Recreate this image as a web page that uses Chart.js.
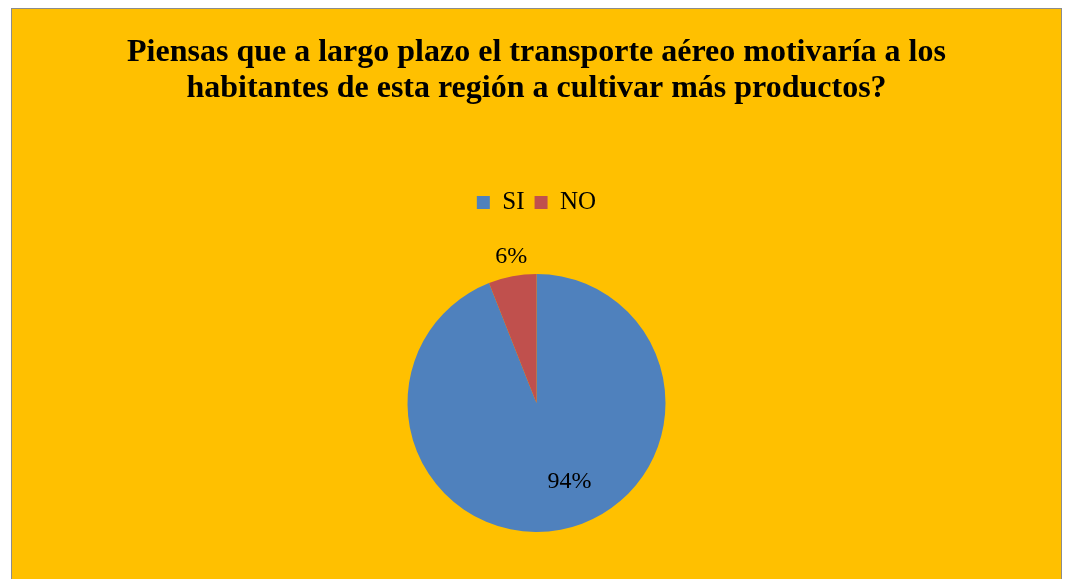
<!DOCTYPE html>
<html>
<head>
<meta charset="utf-8">
<script src="https://cdn.jsdelivr.net/npm/chart.js@4.4.0/dist/chart.umd.min.js"></script>
<style>
  body { margin: 0; background: #fff; overflow: hidden; }
  #box {
    position: absolute; left: 11px; top: 8px; width: 1049px; height: 590px;
    background: #ffc000; border: 1px solid #8c8c8c; border-bottom: none;
  }
  canvas { display: block; }
</style>
</head>
<body>
<div id="box"><canvas id="pieChart" width="1049" height="590"></canvas></div>
<script>
const titleLines = [
  "Piensas que a largo plazo el transporte aéreo motivaría a los",
  "habitantes de esta región a cultivar más productos?"
];
const categories = ["SI", "NO"];
const values = [94, 6];
const colors = ["#4f81bd", "#c0504d"];

// where each percent label sits: fraction of radius, and angle nudge in degrees
const labelPlace = [
  { radius: 0.66, shift: -12 },
  { radius: 1.15, shift: 1 }
];

const pctLabels = {
  id: "pctLabels",
  afterDatasetsDraw(chart) {
    const ctx = chart.ctx;
    const total = values.reduce((a, b) => a + b, 0);
    chart.getDatasetMeta(0).data.forEach((arc, i) => {
      const mid = (arc.startAngle + arc.endAngle) / 2 + labelPlace[i].shift * Math.PI / 180;
      const r = arc.outerRadius * labelPlace[i].radius;
      const x = arc.x + Math.cos(mid) * r;
      const y = arc.y + Math.sin(mid) * r;
      ctx.save();
      ctx.font = "24px 'Liberation Serif', 'Times New Roman', serif";
      ctx.fillStyle = "#000";
      ctx.textAlign = "center";
      ctx.textBaseline = "middle";
      ctx.fillText(Math.round(values[i] / total * 100) + "%", x, y);
      ctx.restore();
    });
  }
};

new Chart(document.getElementById("pieChart"), {
  type: "pie",
  data: {
    labels: categories,
    datasets: [{
      data: values,
      backgroundColor: colors,
      borderWidth: 0,
      radius: 129
    }]
  },
  options: {
    responsive: false,
    animation: false,
    layout: { padding: { bottom: 18 } },
    plugins: {
      tooltip: { enabled: false },
      title: {
        display: true,
        text: titleLines,
        color: "#000",
        font: { family: "'Liberation Serif', 'Times New Roman', serif", size: 32, weight: "bold", lineHeight: 1.125 },
        padding: { top: 26, bottom: 73 }
      },
      legend: {
        position: "top",
        labels: {
          color: "#000",
          boxWidth: 13,
          boxHeight: 13,
          padding: 10,
          font: { family: "'Liberation Serif', 'Times New Roman', serif", size: 25 }
        }
      }
    }
  },
  plugins: [pctLabels]
});
</script>
</body>
</html>
